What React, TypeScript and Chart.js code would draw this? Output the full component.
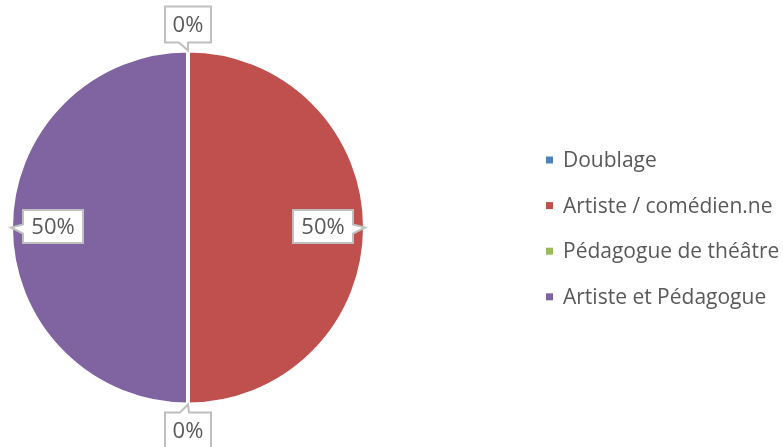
import React, { useEffect, useRef } from "react";
import { Chart, registerables } from "chart.js";

Chart.register(...registerables);

const categories = ["Doublage", "Artiste / comédien.ne", "Pédagogue de théâtre", "Artiste et Pédagogue"];
const values = [0, 50, 0, 50];
const colors = ["#4F81BD", "#C0504D", "#9BBB59", "#8064A2"];

const FONT = "'Open Sans', 'Liberation Sans', sans-serif";
const TEXT_COLOR = "#595959";

function drawCallout(ctx: CanvasRenderingContext2D, cx: number, cy: number, w: number, h: number, tipX: number, tipY: number, text: string) {
  const x0 = cx - w / 2, y0 = cy - h / 2, x1 = cx + w / 2, y1 = cy + h / 2;
  const dx = tipX - cx, dy = tipY - cy;
  let side: "top" | "bottom" | "left" | "right";
  if (Math.abs(dx) / w > Math.abs(dy) / h) side = dx > 0 ? "right" : "left";
  else side = dy > 0 ? "bottom" : "top";
  const tw = 9;
  ctx.save();
  ctx.beginPath();
  ctx.moveTo(x0, y0);
  if (side === "top") {
    const bx = Math.min(Math.max(tipX - 8, x0 + 4), x1 - tw - 4);
    ctx.lineTo(bx, y0);
    ctx.lineTo(tipX, tipY);
    ctx.lineTo(bx + tw, y0);
  }
  ctx.lineTo(x1, y0);
  if (side === "right") {
    const by = Math.min(Math.max(tipY - 3, y0 + 4), y1 - tw - 4);
    ctx.lineTo(x1, by);
    ctx.lineTo(tipX, tipY);
    ctx.lineTo(x1, by + tw);
  }
  ctx.lineTo(x1, y1);
  if (side === "bottom") {
    const bx = Math.min(Math.max(tipX - 9, x0 + 4), x1 - tw - 4);
    ctx.lineTo(bx + tw, y1);
    ctx.lineTo(tipX, tipY);
    ctx.lineTo(bx, y1);
  }
  ctx.lineTo(x0, y1);
  if (side === "left") {
    const by = Math.min(Math.max(tipY - 3, y0 + 4), y1 - tw - 4);
    ctx.lineTo(x0, by + tw);
    ctx.lineTo(tipX, tipY);
    ctx.lineTo(x0, by);
  }
  ctx.closePath();
  ctx.fillStyle = "#ffffff";
  ctx.fill();
  ctx.lineWidth = 2;
  ctx.strokeStyle = "#BFBFBF";
  ctx.stroke();
  ctx.fillStyle = TEXT_COLOR;
  ctx.font = `22px ${FONT}`;
  ctx.textAlign = "center";
  ctx.textBaseline = "middle";
  ctx.fillText(text, cx, cy + 1);
  ctx.restore();
}

const calloutPlugin = {
  id: "callouts",
  afterDatasetsDraw(chart: any) {
    const ctx = chart.ctx as CanvasRenderingContext2D;
    const meta = chart.getDatasetMeta(0);
    const data = chart.data.datasets[0].data as number[];
    const total = data.reduce((a, b) => a + b, 0);
    meta.data.forEach((arc: any, i: number) => {
      const { x, y, startAngle, endAngle, outerRadius } = arc.getProps(["x", "y", "startAngle", "endAngle", "outerRadius"], true);
      const mid = (startAngle + endAngle) / 2;
      const R = outerRadius - 2;
      const pct = Math.round((data[i] / total) * 100) + "%";
      const tipX = x + Math.cos(mid) * (R + 2);
      const tipY = y + Math.sin(mid) * (R + 2);
      let bx: number, by: number, w: number, h: number;
      if (data[i] > 0) {
        bx = x + Math.cos(mid) * 135;
        by = y + Math.sin(mid) * 135 - 1;
        w = 60; h = 33;
      } else {
        bx = x + Math.cos(mid) * 203;
        by = y + Math.sin(mid) * 203;
        w = 46; h = 36;
      }
      drawCallout(ctx, bx, by, w, h, tipX, tipY, pct);
    });
  },
  afterDraw(chart: any) {
    const ctx = chart.ctx as CanvasRenderingContext2D;
    const labels = chart.data.labels as string[];
    const bg = chart.data.datasets[0].backgroundColor as string[];
    ctx.save();
    ctx.font = `21px ${FONT}`;
    ctx.textAlign = "left";
    ctx.textBaseline = "middle";
    labels.forEach((lab, i) => {
      const yc = 160 + i * 45.6;
      ctx.fillStyle = bg[i];
      ctx.fillRect(546, yc - 3.5, 7, 7);
      ctx.fillStyle = TEXT_COLOR;
      ctx.fillText(lab, 563, yc + 1);
    });
    ctx.restore();
  },
};

export default function App() {
  const ref = useRef<HTMLCanvasElement>(null);
  useEffect(() => {
    if (!ref.current) return;
    const chart = new Chart(ref.current, {
      type: "pie",
      data: {
        labels: categories,
        datasets: [
          {
            data: values,
            backgroundColor: colors,
            borderColor: "#ffffff",
            borderWidth: 4,
            radius: 177,
          } as any,
        ],
      },
      options: {
        animation: false,
        responsive: false,
        events: [],
        layout: { padding: { left: 0, right: 407, top: 8, bottom: 0 } },
        plugins: {
          legend: { display: false },
          tooltip: { enabled: false },
        },
      },
      plugins: [calloutPlugin],
    });
    return () => chart.destroy();
  }, []);
  return (
    <div style={{ position: "fixed", left: 0, top: 0, width: 783, height: 447, background: "#fff" }}>
      <canvas ref={ref} width={783} height={447} style={{ width: 783, height: 447 }} />
    </div>
  );
}
